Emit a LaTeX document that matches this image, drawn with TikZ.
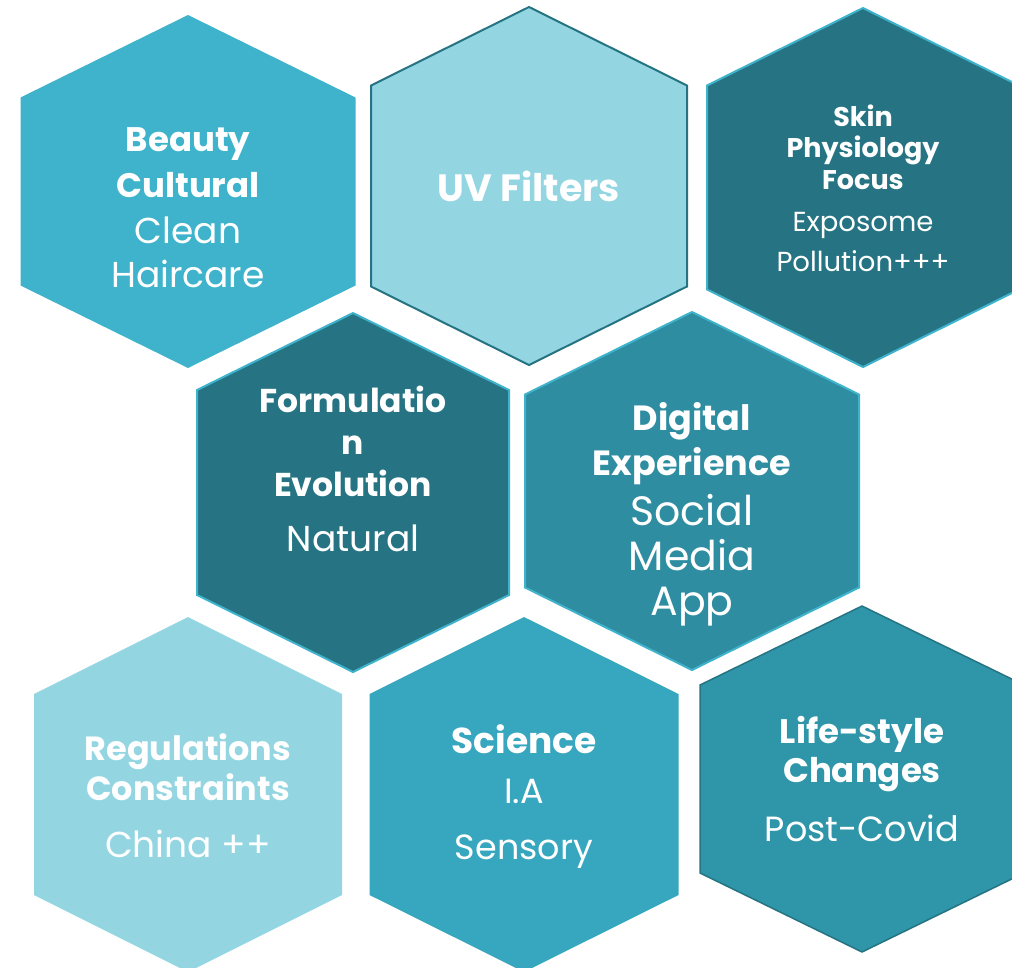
\documentclass[tikz,border=0pt]{standalone}
\usepackage{fontspec}
\setmainfont{Poppins}
\begin{document}
\begin{tikzpicture}[x=1pt, y=-1pt,
    title/.style 2 args={text=white, align=center, inner sep=0pt, font=\bfseries\fontsize{#1}{#2}\selectfont},
    body/.style 2 args={text=white, align=center, inner sep=0pt, font=\fontsize{#1}{#2}\selectfont}]
    \definecolor{hex-light}{HTML}{93D6E2}
    \definecolor{hex-cyan}{HTML}{3EB3CB}
    \definecolor{hex-mid}{HTML}{37A6BF}
    \definecolor{hex-teal}{HTML}{2E8DA1}
    \definecolor{hex-sea}{HTML}{2F95A9}
    \definecolor{hex-dark}{HTML}{267483}
    % style, centre x, centre y, half width, half height, corner offset
    \def\hexcell#1#2#3#4#5#6{\path[#1] ({#2},{#3-#5}) -- ({#2+#4},{#3-#6}) -- ({#2+#4},{#3+#6}) -- ({#2},{#3+#5}) -- ({#2-#4},{#3+#6}) -- ({#2-#4},{#3-#6}) -- cycle;}
    \useasboundingbox (0,0) rectangle (1012,967);
    \clip (0,0) rectangle (1012,967);
    % top row
    \hexcell{fill=hex-cyan}{188}{191.5}{167.5}{176.5}{94}
    \hexcell{fill=hex-light, draw=hex-dark, line width=2pt}{529}{186}{158}{179}{100.5}
    \hexcell{fill=hex-dark, draw=hex-cyan, line width=2pt}{863}{187.5}{156}{179.5}{102}
    % middle row
    \hexcell{fill=hex-dark, draw=hex-cyan, line width=2pt}{353}{492.5}{156}{179.5}{102.5}
    \hexcell{fill=hex-teal, draw=hex-cyan, line width=2pt}{692}{491}{167}{179}{96.5}
    % bottom row
    \hexcell{fill=hex-light}{188}{794.5}{154}{177.5}{100.5}
    \hexcell{fill=hex-mid}{524}{794.5}{154.5}{177.5}{100.5}
    \hexcell{fill=hex-sea, draw=hex-dark, line width=1.5pt}{862}{779}{162}{173}{94}
    % labels
    \node[title={34}{46}] (beauty) at (188,163) {Beauty\\Cultural};
    \node[body={36}{44}] (clean) at (188,252) {Clean\\Haircare};
    \node[title={38}{48}] (uv) at (529,186) {UV Filters};
    \node[title={27}{31.5}] (skin) at (863,147) {Skin\\Physiology\\Focus};
    \node[body={27.5}{40}] (exposome) at (863,242) {Exposome\\Pollution+++};
    \node[title={33}{42}] (formulation) at (353,441) {Formulatio\\n\\Evolution};
    \node[body={36}{40}] (natural) at (353,538) {Natural};
    \node[title={35}{45}] (digital) at (692,444) {Digital\\Experience};
    \node[body={41}{45}] (social) at (692,560) {Social\\Media\\App};
    \node[title={33.5}{40}] (regulations) at (188,767) {Regulations\\Constraints};
    \node[body={36}{40}] (china) at (188,844) {China ++};
    \node[title={36}{40}] (science) at (524,739) {Science};
    \node[body={35}{56}] (sensory) at (524,824) {I.A\\Sensory};
    \node[title={34}{39}] (lifestyle) at (862,754) {Life-style\\Changes};
    \node[body={35}{40}] (covid) at (862,828) {Post-Covid};
\end{tikzpicture}
\end{document}
